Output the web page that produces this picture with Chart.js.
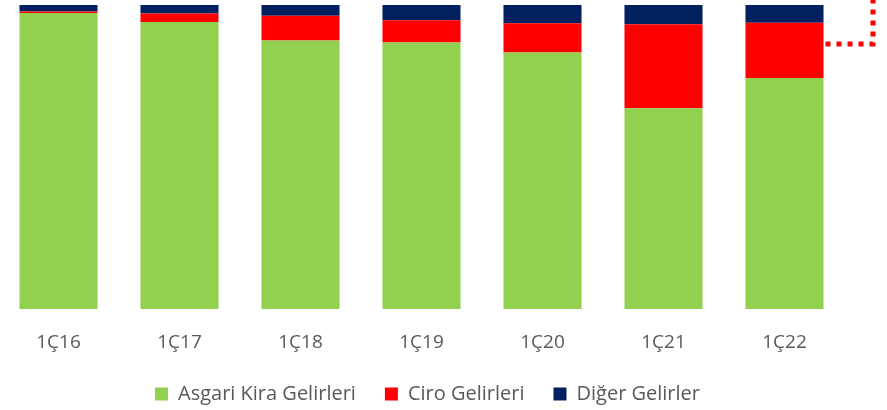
<!DOCTYPE html>
<html>
<head>
<meta charset="utf-8">
<script src="https://cdn.jsdelivr.net/npm/chart.js@4.4.1/dist/chart.umd.min.js"></script>
<style>
  html, body { margin: 0; padding: 0; background: #fff; overflow: hidden; }
  #wrap { width: 887px; height: 410px; overflow: hidden; }
  #gelir-canvas { margin-left: -2px; display: block; }
</style>
</head>
<body>
<div id="wrap"><canvas id="gelir-canvas" width="889" height="417"></canvas></div>
<script>
// gelir dagilimi (%), ceyrek bazinda
var quarters = ['1Ç16', '1Ç17', '1Ç18', '1Ç19', '1Ç20', '1Ç21', '1Ç22'];
var asgariKira = [97.4, 94.4, 88.3, 87.7, 84.4, 66.0, 76.0];
var ciro = [0.5, 2.8, 8.2, 7.3, 9.6, 27.7, 18.2];
var diger = [2.1, 2.8, 3.5, 5.0, 6.0, 6.3, 5.8];

var textColor = '#595959';
var fontFamily = '"Open Sans", "Noto Sans", sans-serif';

// kirmizi noktali cizgi (son cubuktan sag uste)
var dottedLine = {
    id: 'dottedLine',
    afterLayout: function(chart) {
        // legend biraz saga
        chart.legend.left += 6;
        chart.legend.right += 6;
    },
    afterDatasetsDraw: function(chart) {
        var meta = chart.getDatasetMeta(1);
        var bar = meta.data[meta.data.length - 1];
        var x0 = bar.x + bar.width / 2;
        var y0 = chart.scales.y.getPixelForValue(87.2);
        var x1 = chart.width - 14;
        var ctx = chart.ctx;
        ctx.save();
        ctx.strokeStyle = '#ff0000';
        ctx.lineWidth = 5;
        ctx.setLineDash([5, 6]);
        ctx.beginPath();
        ctx.moveTo(x0 + 2, y0);
        ctx.lineTo(x1, y0);
        ctx.lineTo(x1, 0);
        ctx.stroke();
        ctx.restore();
    }
};

window.onload = function() {
    var ctx = document.getElementById('gelir-canvas').getContext('2d');
    window.bar1 = new Chart(ctx, {
        type: 'bar',
        data: {
            labels: quarters,
            datasets: [
                { label: 'Asgari Kira Gelirleri', data: asgariKira, backgroundColor: '#92d050' },
                { label: 'Ciro Gelirleri', data: ciro, backgroundColor: '#ff0000' },
                { label: 'Diğer Gelirler', data: diger, backgroundColor: '#002060' }
            ]
        },
        options: {
            responsive: false,
            animation: false,
            layout: {
                padding: { top: 5, left: 0, right: 42, bottom: 3 }
            },
            datasets: {
                bar: { categoryPercentage: 1, barPercentage: 0.645, borderWidth: 0 }
            },
            scales: {
                x: {
                    stacked: true,
                    grid: { display: false, drawTicks: false },
                    border: { display: false },
                    ticks: {
                        color: textColor,
                        padding: 22,
                        font: { family: fontFamily, size: 19 }
                    },
                    afterFit: function(scale) {
                        scale.height = 46;
                    }
                },
                y: {
                    stacked: true,
                    display: false,
                    min: 0,
                    max: 100
                }
            },
            plugins: {
                legend: {
                    position: 'bottom',
                    labels: {
                        color: textColor,
                        boxWidth: 13,
                        boxHeight: 13,
                        padding: 29,
                        font: { family: fontFamily, size: 20 }
                    }
                },
                tooltip: { enabled: false }
            }
        },
        plugins: [dottedLine]
    });
};
</script>
</body>
</html>
